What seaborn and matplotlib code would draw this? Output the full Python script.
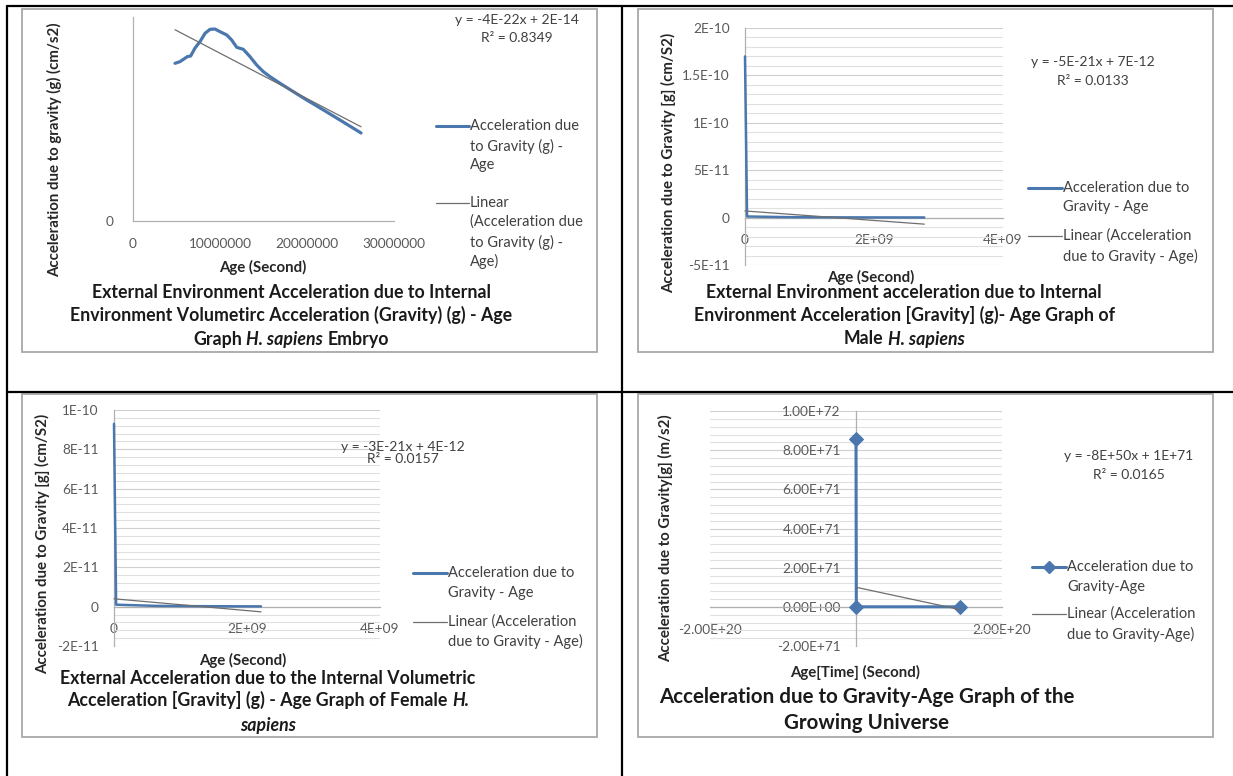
import matplotlib
matplotlib.use("Agg")
import matplotlib.pyplot as plt
import seaborn as sns
from matplotlib.lines import Line2D
from matplotlib.patches import Rectangle
from matplotlib.ticker import MultipleLocator

# ---------------- data ----------------
# Embryo: age (s) vs acceleration due to gravity (cm/s2)
embryo_age = [4.83e6, 5.40e6, 6.24e6, 6.63e6, 7.13e6, 7.70e6, 8.28e6, 8.85e6,
              9.43e6, 10.00e6, 10.77e6, 11.34e6, 11.92e6, 12.68e6, 13.45e6,
              14.22e6, 14.98e6, 15.75e6, 16.90e6, 18.43e6, 19.97e6, 21.26e6,
              23.79e6, 26.21e6]
embryo_g = [1.546e-14, 1.562e-14, 1.611e-14, 1.618e-14, 1.696e-14, 1.758e-14,
            1.840e-14, 1.879e-14, 1.882e-14, 1.856e-14, 1.824e-14, 1.775e-14,
            1.703e-14, 1.683e-14, 1.611e-14, 1.529e-14, 1.464e-14, 1.415e-14,
            1.350e-14, 1.268e-14, 1.186e-14, 1.121e-14, 0.990e-14, 0.863e-14]
embryo_trend = (-4.45e-22, 2.09e-14)
embryo_r2 = 0.8349

# Male: age (s) vs acceleration due to gravity (cm/s2)
male_age = [1.0e3, 3.2e7, 6.3e8, 1.26e9, 1.89e9, 2.78e9]
male_g = [1.70e-10, 1.2e-12, 5.0e-13, 3.0e-13, 2.0e-13, 1.5e-13]
male_trend = (-5e-21, 7e-12)
male_r2 = 0.0133

# Female: age (s) vs acceleration due to gravity (cm/s2)
female_age = [1.0e3, 3.2e7, 6.3e8, 1.26e9, 1.89e9, 2.21e9]
female_g = [9.3e-11, 1.0e-12, 4.0e-13, 2.5e-13, 1.8e-13, 1.5e-13]
female_trend = (-3e-21, 4e-12)
female_r2 = 0.0157

# Growing universe: age (s) vs acceleration due to gravity (m/s2)
universe_age = [5.39e-44, 4.35e17, 1.43e20]
universe_g = [8.57e71, 2.0e68, 1.0e66]
universe_trend = (-8e50, 1e71)
universe_r2 = 0.0165

# tick labels
embryo_xticks = [0, 1e7, 2e7, 3e7]
embryo_xlabels = ["0", "10000000", "20000000", "30000000"]
male_yticks = [-5e-11, 0, 5e-11, 1e-10, 1.5e-10, 2e-10]
male_ylabels = ["-5E-11", "0", "5E-11", "1E-10", "1.5E-10", "2E-10"]
female_yticks = [-2e-11, 0, 2e-11, 4e-11, 6e-11, 8e-11, 1e-10]
female_ylabels = ["-2E-11", "0", "2E-11", "4E-11", "6E-11", "8E-11", "1E-10"]
human_xticks = [0, 2e9, 4e9]
human_xlabels = ["0", "2E+09", "4E+09"]
universe_yticks = [-2e71, 0, 2e71, 4e71, 6e71, 8e71, 1e72]
universe_ylabels = ["-2.00E+71", "0.00E+00", "2.00E+71", "4.00E+71",
                    "6.00E+71", "8.00E+71", "1.00E+72"]
universe_xticks = [-2e20, 2e20]
universe_xlabels = ["-2.00E+20", "2.00E+20"]

# ---------------- style ----------------
sns.set_theme(style="white")
FONT = ["Lato", "DejaVu Sans"]
plt.rcParams["font.family"] = FONT

SERIES = "#4a77ad"
TREND = "#6e6e6e"
AXIS = "#b0b0b0"
GRID_MAJ = "#cfcfcf"
GRID_MIN = "#e0e0e0"
TICK_FS = 9.8
TEXT_FS = 10.5
EQ_FS = 10
LABEL_FS = 10.8
TITLE_FS = 12.8

W, H = 1233, 776
fig = plt.figure(figsize=(W / 100, H / 100), dpi=100)
fig.patch.set_facecolor("white")


def fx(px):
    return px / W


def fy(py):
    return 1 - py / H


def add_ax(x0, y0, x1, y1):
    return fig.add_axes([fx(x0), fy(y1), (x1 - x0) / W, (y1 - y0) / H])


def base_style(ax):
    ax.set_facecolor("none")
    for s in ("top", "right"):
        ax.spines[s].set_visible(False)
    for s in ("left", "bottom"):
        ax.spines[s].set_color(AXIS)
        ax.spines[s].set_linewidth(0.9)
    ax.tick_params(which="major", colors=AXIS, labelcolor="#595959",
                   labelsize=TICK_FS, length=3, width=0.8, direction="out")
    ax.tick_params(which="minor", length=0)


def ygrid(ax, minor):
    ax.yaxis.set_minor_locator(MultipleLocator(minor))
    ax.grid(which="major", axis="y", color=GRID_MAJ, lw=0.8)
    ax.grid(which="minor", axis="y", color=GRID_MIN, lw=0.8)
    ax.grid(which="major", axis="x", visible=False)
    ax.set_axisbelow(True)


def draw_series(ax, x, y, lw, marker=None):
    kw = dict(marker=marker, markersize=7.5, markeredgecolor=SERIES) if marker else {}
    sns.lineplot(x=x, y=y, ax=ax, color=SERIES, linewidth=lw, sort=False,
                 estimator=None, zorder=3, clip_on=False, **kw)


def draw_trend(ax, x, coef):
    slope, icpt = coef
    xs = [min(x), max(x)]
    sns.lineplot(x=xs, y=[slope * v + icpt for v in xs], ax=ax, color=TREND,
                 linewidth=0.9, zorder=4, clip_on=False)


def ftext(px, py, s, **kw):
    opts = dict(fontsize=TEXT_FS, color="#404040", ha="center", va="center")
    opts.update(kw)
    return fig.text(fx(px), fy(py), s, **opts)


def equation(cx, y1, y2, coef, r2):
    slope, icpt = coef
    ftext(cx, y1, f"y = {slope:.0E}x + {icpt:.0E}", fontsize=EQ_FS)
    ftext(cx, y2, f"R\u00b2 = {r2:.4f}", fontsize=EQ_FS)


def legend(x0, x1, ys1, lines1, ys2, lines2, marker=None):
    ya = ys1[0]
    fig.add_artist(Line2D([fx(x0), fx(x1)], [fy(ya), fy(ya)], color=SERIES,
                          lw=2.2, transform=fig.transFigure))
    if marker:
        fig.add_artist(Line2D([fx((x0 + x1) / 2)], [fy(ya)], color=SERIES,
                              marker=marker, markersize=6,
                              transform=fig.transFigure))
    yb = ys2[0]
    fig.add_artist(Line2D([fx(x0), fx(x1)], [fy(yb), fy(yb)], color=TREND,
                          lw=0.9, transform=fig.transFigure))
    for y, s in zip(ys1, lines1):
        ftext(x1 + 1, y, s, ha="left")
    for y, s in zip(ys2, lines2):
        ftext(x1 + 1, y, s, ha="left")


renderer = fig.canvas.get_renderer()


def mixed_line(segs, cx, cy, size):
    """Centered bold line built from (text, style) pieces."""
    probe1 = fig.text(0, 0, "x x", fontsize=size, fontweight="bold")
    probe2 = fig.text(0, 0, "xx", fontsize=size, fontweight="bold")
    space = (probe1.get_window_extent(renderer).width
             - probe2.get_window_extent(renderer).width)
    probe1.remove()
    probe2.remove()
    items = []
    for s, style in segs:
        t = fig.text(0, 0, s, fontsize=size, fontweight="bold", fontstyle=style,
                     color="#1a1a1a", ha="left", va="center")
        items.append((t, t.get_window_extent(renderer).width))
    total = sum(w for _, w in items) + space * (len(items) - 1)
    x = cx - total / 2
    for t, w in items:
        t.set_position((fx(x), fy(cy)))
        x += w + space


def title(lines, cx, ys, size=TITLE_FS):
    for segs, y in zip(lines, ys):
        mixed_line(segs, cx, y, size)


def axis_labels(ylab, yx, yy, xlab, xx, xy):
    ftext(yx, yy, ylab, rotation=90, fontweight="bold", fontsize=LABEL_FS,
          color="#262626")
    ftext(xx, xy, xlab, fontweight="bold", fontsize=LABEL_FS, color="#262626")


# ---------------- table frame and chart boxes ----------------
for (xa, ya, xb, yb) in [(7, 6, 1233, 6), (7, 392, 1233, 392),
                         (7, 6, 7, 776), (622, 6, 622, 776)]:
    fig.add_artist(Line2D([fx(xa), fx(xb)], [fy(ya), fy(yb)], color="black",
                          lw=1.6, transform=fig.transFigure))
for (xa, ya, xb, yb) in [(22, 9, 597, 352), (638, 9, 1213, 352),
                         (22, 394, 597, 737), (638, 394, 1213, 737)]:
    fig.add_artist(Rectangle((fx(xa), fy(yb)), (xb - xa) / W, (yb - ya) / H,
                             transform=fig.transFigure, fill=False,
                             edgecolor="#a8a8a8", lw=1.3))

# ---------------- panel 1: embryo ----------------
ax1 = add_ax(133, 17, 394, 221)
base_style(ax1)
draw_series(ax1, embryo_age, embryo_g, 2.3)
draw_trend(ax1, embryo_age, embryo_trend)
ax1.set_xlim(0, 3e7)
ax1.set_ylim(0, 2e-14)
ax1.set_xticks(embryo_xticks, embryo_xlabels)
ax1.set_yticks([0], ["0"])
ax1.tick_params(axis="x", pad=9)
ax1.tick_params(axis="y", pad=11)
ax1.set_xlabel("")
ax1.set_ylabel("")
equation(517, 20, 38, embryo_trend, embryo_r2)
legend(436, 469, [126, 146, 165], ["Acceleration due", "to Gravity (g) -", "Age"],
       [203, 222, 242, 261],
       ["Linear", "(Acceleration due", "to Gravity (g) -", "Age)"])
axis_labels("Acceleration due to gravity (g) (cm/s2)", 55, 150,
            "Age (Second)", 263, 267)
title([[("External Environment Acceleration due to Internal", "normal")],
       [("Environment Volumetirc Acceleration (Gravity) (g) - Age", "normal")],
       [("Graph", "normal"), ("H. sapiens", "italic"), ("Embryo", "normal")]],
      291, [292, 315, 339])

# ---------------- panel 2: male ----------------
ax2 = add_ax(745, 28, 1003, 265)
base_style(ax2)
ygrid(ax2, 1e-11)
draw_series(ax2, male_age, male_g, 1.8)
draw_trend(ax2, male_age, male_trend)
ax2.set_xlim(0, 4e9)
ax2.set_ylim(-5e-11, 2e-10)
ax2.spines["bottom"].set_position(("data", 0))
ax2.set_xticks(human_xticks, human_xlabels)
ax2.set_yticks(male_yticks, male_ylabels)
ax2.tick_params(axis="x", pad=9)
ax2.tick_params(axis="y", pad=8)
ax2.set_xlabel("")
ax2.set_ylabel("")
equation(1093, 62, 81, male_trend, male_r2)
legend(1028, 1062, [188, 207], ["Acceleration due to", "Gravity - Age"],
       [236, 256], ["Linear (Acceleration", "due to Gravity - Age)"])
axis_labels("Acceleration due to Gravity [g] (cm/S2)", 669, 163,
            "Age (Second)", 871, 277)
title([[("External Environment acceleration due to Internal", "normal")],
       [("Environment Acceleration [Gravity] (g)- Age Graph of", "normal")],
       [("Male", "normal"), ("H. sapiens", "italic")]],
      904, [292, 315, 339])

# ---------------- panel 3: female ----------------
ax3 = add_ax(114, 410, 380, 646)
base_style(ax3)
ygrid(ax3, 4e-12)
draw_series(ax3, female_age, female_g, 1.8)
draw_trend(ax3, female_age, female_trend)
ax3.set_xlim(0, 4e9)
ax3.set_ylim(-2e-11, 1e-10)
ax3.spines["bottom"].set_position(("data", 0))
ax3.set_xticks(human_xticks, human_xlabels)
ax3.set_yticks(female_yticks, female_ylabels)
ax3.tick_params(axis="x", pad=9)
ax3.tick_params(axis="y", pad=8)
ax3.set_xlabel("")
ax3.set_ylabel("")
equation(403, 447, 459, female_trend, female_r2)
legend(413, 447, [573, 593], ["Acceleration due to", "Gravity - Age"],
       [622, 641], ["Linear (Acceleration", "due to Gravity - Age)"])
axis_labels("Acceleration due to Gravity [g] (cm/S2)", 43, 544,
            "Age (Second)", 243, 660)
title([[("External Acceleration due to the Internal Volumetric", "normal")],
       [("Acceleration [Gravity] (g) - Age Graph of Female", "normal"),
        ("H.", "italic")],
       [("sapiens", "italic")]],
      268, [678, 700, 725])

# ---------------- panel 4: growing universe ----------------
ax4 = add_ax(710, 411, 1002, 646)
base_style(ax4)
ygrid(ax4, 4e70)
draw_series(ax4, universe_age, universe_g, 2.2, marker="D")
draw_trend(ax4, universe_age, universe_trend)
ax4.set_xlim(-2e20, 2e20)
ax4.set_ylim(-2e71, 1e72)
ax4.spines["bottom"].set_position(("data", 0))
ax4.spines["left"].set_position(("data", 0))
ax4.set_xticks(universe_xticks, universe_xlabels)
ax4.set_yticks(universe_yticks, universe_ylabels)
ax4.tick_params(axis="x", pad=9)
ax4.tick_params(axis="y", pad=8)
ax4.set_xlabel("")
ax4.set_ylabel("")
equation(1129, 456, 475, universe_trend, universe_r2)
legend(1032, 1066, [567, 587], ["Acceleration due to", "Gravity-Age"],
       [614, 634], ["Linear (Acceleration", "due to Gravity-Age)"], marker="D")
axis_labels("Acceleration due to Gravity[g] (m/s2)", 666, 538,
            "Age[Time] (Second)", 855, 672)
title([[("Acceleration due to Gravity-Age Graph of the", "normal")],
       [("Growing Universe", "normal")]],
      867, [697, 723], size=14.8)

fig.savefig("out.png", dpi=100, facecolor="white")
